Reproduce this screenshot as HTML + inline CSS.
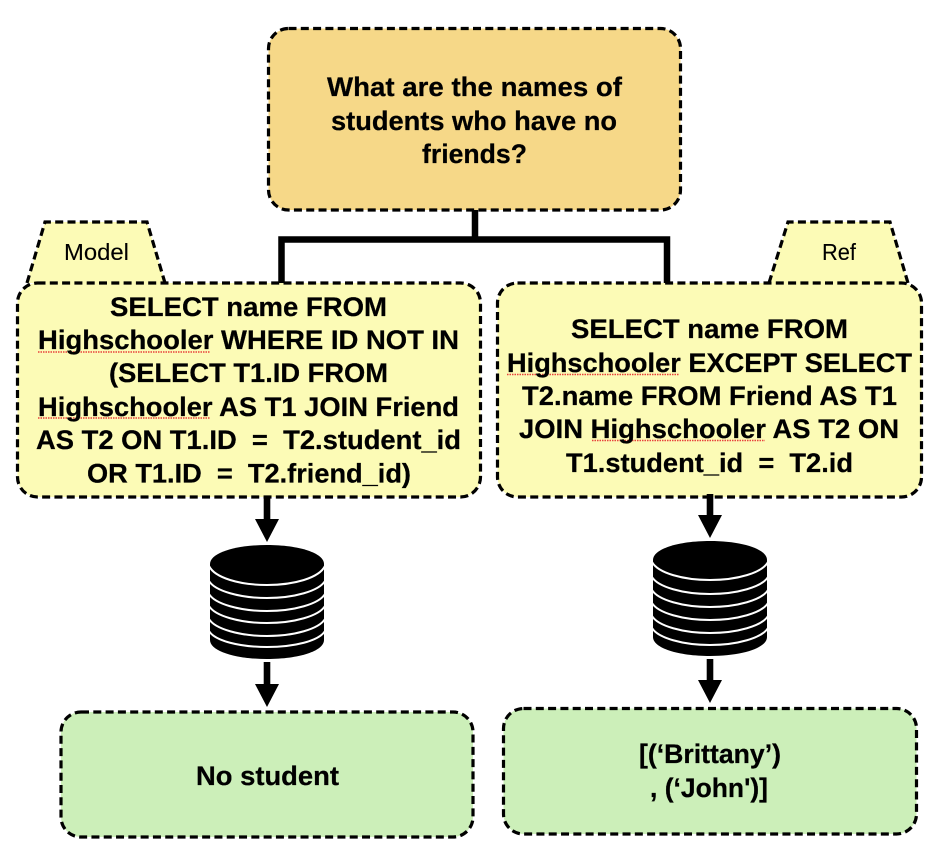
<!DOCTYPE html>
<html lang="en">
<head>
<meta charset="utf-8">
<title>Diagram</title>
<style>
html,body{margin:0;padding:0;background:#fff;width:928px;height:846px;overflow:hidden}
svg{display:block}
text{font-family:"Liberation Sans",Arial,sans-serif;font-weight:700;fill:#000;font-size:27px;stroke:#000;stroke-width:.25}
text.tab{font-weight:400;font-size:23px;stroke-width:.1}
.box{stroke:#000;stroke-width:3.200;stroke-dasharray:8 4.300}
.sq{stroke:#e8413c;stroke-width:1.400;stroke-dasharray:1.500 1;fill:none}
.arc{fill:none;stroke:#fff;stroke-width:2}
</style>
</head>
<body>
<svg width="928" height="846" viewBox="0 0 928 846" xmlns="http://www.w3.org/2000/svg">
  <!-- connectors -->
  <path d="M475 210V239.500M281.500 284V239.500H667V284" fill="none" stroke="#000" stroke-width="6.500"/>

  <!-- tabs -->
  <polygon points="27,283 45,222 147,222 165,283" fill="#fcfbb6"/>
  <polyline class="box" points="27,283 45,222 147,222 165,283" fill="none"/>
  <polygon points="769,283 788,222 890,222 908,283" fill="#fcfbb6"/>
  <polyline class="box" points="769,283 788,222 890,222 908,283" fill="none"/>
  <text class="tab" x="64" y="260" textLength="65" lengthAdjust="spacingAndGlyphs">Model</text>
  <text class="tab" x="822" y="260" textLength="34" lengthAdjust="spacingAndGlyphs">Ref</text>

  <!-- question -->
  <rect class="box" x="268.500" y="28.500" width="412" height="181.500" rx="20" fill="#f6d888"/>
  <text x="327" y="96" textLength="295" lengthAdjust="spacingAndGlyphs">What are the names of</text>
  <text x="331" y="130" textLength="286" lengthAdjust="spacingAndGlyphs">students who have no</text>
  <text x="422" y="163" textLength="105" lengthAdjust="spacingAndGlyphs">friends?</text>

  <!-- model SQL -->
  <rect class="box" x="17.500" y="283" width="463" height="214" rx="20" fill="#fcfbb6"/>
  <path class="sq" d="M38 352H210M38 418H210"/>
  <text x="110" y="316" textLength="277" lengthAdjust="spacingAndGlyphs">SELECT name FROM</text>
  <text x="38" y="349" textLength="421" lengthAdjust="spacingAndGlyphs">Highschooler WHERE ID NOT IN</text>
  <text x="109" y="382" textLength="279" lengthAdjust="spacingAndGlyphs">(SELECT T1.ID FROM</text>
  <text x="38" y="416" textLength="421" lengthAdjust="spacingAndGlyphs">Highschooler AS T1 JOIN Friend</text>
  <text x="36" y="449" textLength="425" lengthAdjust="spacingAndGlyphs">AS T2 ON T1.ID &#160;= &#160;T2.student_id</text>
  <text x="87" y="482.500" textLength="324" lengthAdjust="spacingAndGlyphs">OR T1.ID &#160;= &#160;T2.friend_id)</text>

  <!-- ref SQL -->
  <rect class="box" x="497.500" y="283" width="424" height="214" rx="20" fill="#fcfbb6"/>
  <path class="sq" d="M507 374.500H679M592 440.500H765"/>
  <text x="571" y="338" textLength="277" lengthAdjust="spacingAndGlyphs">SELECT name FROM</text>
  <text x="507" y="372" textLength="405" lengthAdjust="spacingAndGlyphs">Highschooler EXCEPT SELECT</text>
  <text x="522" y="405" textLength="375" lengthAdjust="spacingAndGlyphs">T2.name FROM Friend AS T1</text>
  <text x="519" y="438" textLength="380" lengthAdjust="spacingAndGlyphs">JOIN Highschooler AS T2 ON</text>
  <text x="566" y="472" textLength="287" lengthAdjust="spacingAndGlyphs">T1.student_id &#160;= &#160;T2.id</text>

  <!-- arrows left -->
  <path d="M263.700 497H270.300V519H279L267 542L255 519H263.700Z" fill="#000"/>
  <path d="M263.700 662H270.300V684H279L267 707L255 684H263.700Z" fill="#000"/>
  <!-- arrows right -->
  <path d="M706.700 494H713.300V515H722L710 538L698 515H706.700Z" fill="#000"/>
  <path d="M706.700 659H713.300V680H722L710 703L698 680H706.700Z" fill="#000"/>

  <!-- db left -->
  <path d="M210 564C210 553 235 545 267 545C299 545 324 553 324 564V640C324 651 299 659 267 659C235 659 210 651 210 640Z" fill="#000"/>
  <path class="arc" d="M209 566C215 578 240 585 267 585C294 585 319 578 325 566"/>
  <path class="arc" d="M209 581C215 591 240 598 267 598C294 598 319 591 325 581"/>
  <path class="arc" d="M209 594C215 604 240 611 267 611C294 611 319 604 325 594"/>
  <path class="arc" d="M209 606C215 616 240 623 267 623C294 623 319 616 325 606"/>
  <path class="arc" d="M209 619C215 629 240 636 267 636C294 636 319 629 325 619"/>
  <path class="arc" d="M209 631C215 641 240 647 267 647C294 647 319 641 325 631"/>

  <!-- db right -->
  <path d="M653 560C653 549 678 541 710 541C742 541 767 549 767 560V637C767 648 742 656 710 656C678 656 653 648 653 637Z" fill="#000"/>
  <path class="arc" d="M652 562C658 573 683 580 710 580C737 580 762 573 768 562"/>
  <path class="arc" d="M652 577C658 587 683 594 710 594C737 594 762 587 768 577"/>
  <path class="arc" d="M652 590C658 600 683 607 710 607C737 607 762 600 768 590"/>
  <path class="arc" d="M652 603C658 613 683 620 710 620C737 620 762 613 768 603"/>
  <path class="arc" d="M652 616C658 626 683 633 710 633C737 633 762 626 768 616"/>
  <path class="arc" d="M652 628C658 638 683 645 710 645C737 645 762 638 768 628"/>

  <!-- results -->
  <rect class="box" x="61" y="712" width="412" height="125" rx="20" fill="#ccefb9"/>
  <text x="196" y="785" textLength="143" lengthAdjust="spacingAndGlyphs">No student</text>
  <rect class="box" x="503.500" y="708.500" width="413" height="125.500" rx="20" fill="#ccefb9"/>
  <text x="639" y="763" textLength="142" lengthAdjust="spacingAndGlyphs">[(‘Brittany’)</text>
  <text x="650" y="797" textLength="118" lengthAdjust="spacingAndGlyphs">, (‘John')]</text>
</svg>
</body>
</html>
